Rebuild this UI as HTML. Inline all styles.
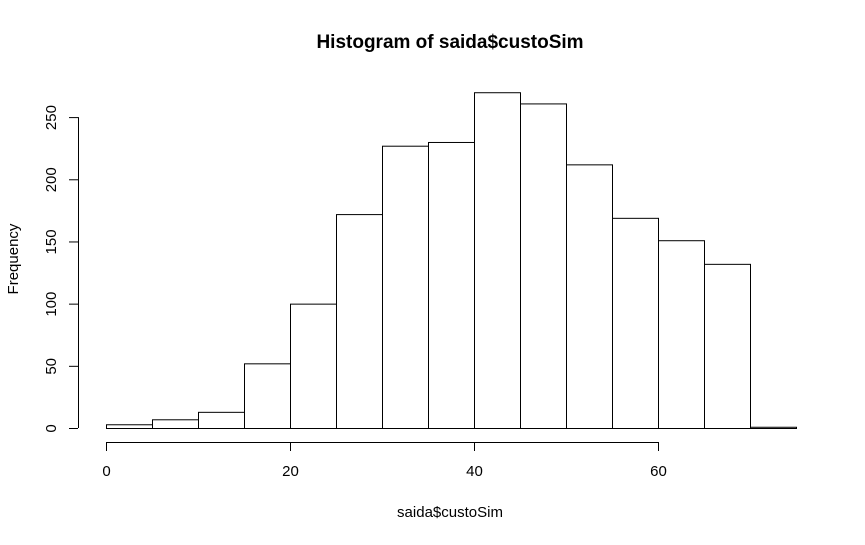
<!DOCTYPE html>
<html><head><meta charset="utf-8"><style>
body{margin:0;background:#fff}
text{font-family:"Liberation Sans",Arial,sans-serif;fill:#000}
</style></head><body>
<svg id="chart" width="865" height="540" xmlns="http://www.w3.org/2000/svg">
<rect width="865" height="540" fill="#fff"/>
<text x="450" y="48" text-anchor="middle" font-size="19" font-weight="bold">Histogram of saida$custoSim</text>
<text x="450" y="517" text-anchor="middle" font-size="15">saida$custoSim</text>
<text transform="translate(18,259) rotate(-90)" text-anchor="middle" font-size="15">Frequency</text>
<g id="bars"></g>
<g id="xaxis"></g>
<g id="yaxis"></g>
</svg>
<script>
const breaks=[0,5,10,15,20,25,30,35,40,45,50,55,60,65,70,75];
const counts=[3,7,13,52,100,172,227,230,270,261,212,169,151,132,1];
const xTicks=[0,20,40,60];
const yTicks=[0,50,100,150,200,250];
const NS="http://www.w3.org/2000/svg";
function xs(v){return 106+v*9.2;}
function ys(v){return 428-v*1.2436;}
function mk(t,a,p){const e=document.createElementNS(NS,t);for(const k in a)e.setAttribute(k,a[k]);p.appendChild(e);return e;}
const bars=document.getElementById('bars');
counts.forEach((c,i)=>{
 const r=mk('rect',{x:xs(breaks[i])+0.5,y:ys(c)+0.5,width:xs(breaks[i+1])-xs(breaks[i]),height:ys(0)-ys(c),fill:'#fff',stroke:'#000','stroke-width':1},bars);
 
 
});
const xa=document.getElementById('xaxis');
mk('line',{x1:xs(xTicks[0]),x2:xs(xTicks[xTicks.length-1]),y1:442.5,y2:442.5,stroke:'#000'},xa);
xTicks.forEach(t=>{
 mk('line',{x1:xs(t)+0.5,x2:xs(t)+0.5,y1:442,y2:451,stroke:'#000'},xa);
 const tx=mk('text',{x:xs(t)+0.5,y:476,'text-anchor':'middle','font-size':15},xa);
 tx.textContent=t;
 
 
});
const ya=document.getElementById('yaxis');
mk('line',{x1:78.5,x2:78.5,y1:ys(yTicks[0]),y2:ys(yTicks[yTicks.length-1]),stroke:'#000'},ya);
yTicks.forEach(t=>{
 mk('line',{x1:69,x2:78,y1:ys(t)+0.5,y2:ys(t)+0.5,stroke:'#000'},ya);
 const tx=mk('text',{transform:'translate(56,'+(ys(t)+0.5)+') rotate(-90)','text-anchor':'middle','font-size':15},ya);
 tx.textContent=t;
 
 
});
</script>
</body></html>
